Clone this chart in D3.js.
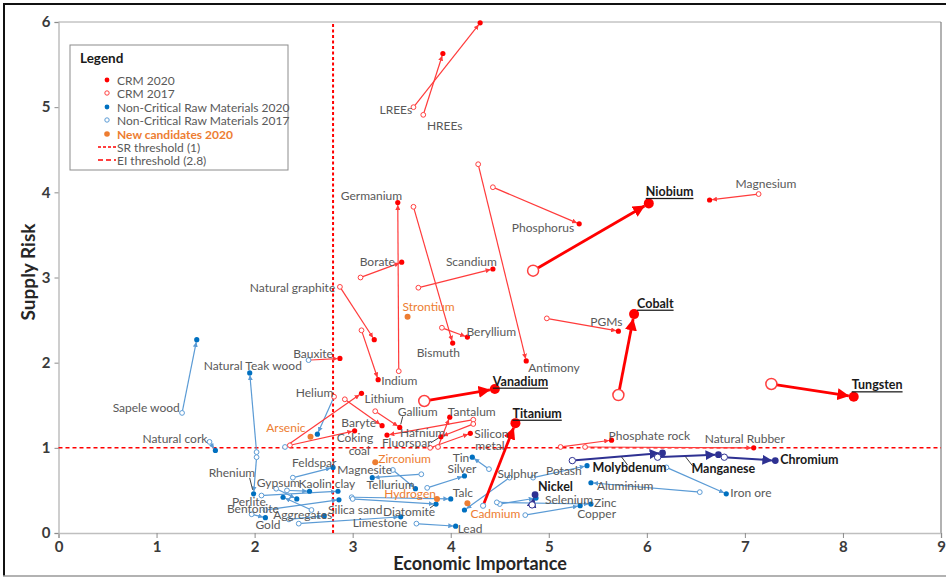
<!DOCTYPE html>
<html>
<head>
<meta charset="utf-8">
<script src="https://cdn.jsdelivr.net/npm/d3@7"></script>
<style>
  html, body { margin: 0; padding: 0; background: #fff; }
  svg text { font-family: Lato, "Open Sans", "Liberation Sans", sans-serif; }
</style>
</head>
<body>
<svg id="chart" width="946" height="578"></svg>
<script>
// ---- Axis ticks -------------------------------------------------------
const xTicks = [0, 1, 2, 3, 4, 5, 6, 7, 8, 9];
const yTicks = [0, 1, 2, 3, 4, 5, 6];

// ---- Thresholds -------------------------------------------------------
const srThreshold = 1;
const eiThreshold = 2.8;

// ---- Material pairs: [name, EI 2017, SR 2017, EI 2020, SR 2020, status 2017]
// Critical raw materials in 2020
const criticalPairs = [
  ["LREEs", 3.62, 5.00, 4.30, 5.99, "crm"],
  ["HREEs", 3.72, 4.91, 3.92, 5.63, "crm"],
  ["Germanium", 3.47, 1.90, 3.46, 3.88, "crm"],
  ["Borate", 3.08, 3.00, 3.50, 3.18, "crm"],
  ["Scandium", 3.67, 2.88, 4.43, 3.10, "crm"],
  ["Natural graphite", 2.87, 2.89, 3.22, 2.27, "crm"],
  ["Phosphorus", 4.43, 4.06, 5.31, 3.63, "crm"],
  ["Antimony", 4.28, 4.33, 4.77, 2.02, "crm"],
  ["Bismuth", 3.62, 3.83, 4.02, 2.23, "crm"],
  ["Beryllium", 3.91, 2.41, 4.17, 2.30, "crm"],
  ["Indium", 3.09, 2.38, 3.26, 1.80, "crm"],
  ["Bauxite", 2.55, 2.03, 2.87, 2.05, "ncrm"],
  ["Lithium", 2.31, 1.01, 3.09, 1.64, "ncrm"],
  ["Baryte", 2.92, 1.57, 3.30, 1.26, "crm"],
  ["Gallium", 3.23, 1.43, 3.48, 1.24, "crm"],
  ["Coking coal", 2.36, 1.03, 3.02, 1.20, "crm"],
  ["Hafnium", 4.23, 1.33, 3.35, 1.15, "crm"],
  ["Fluorspar", 4.23, 1.28, 3.90, 1.13, "crm"],
  ["Silicon metal", 3.79, 1.00, 4.20, 1.17, "crm"],
  ["Tantalum", 3.87, 1.01, 3.99, 1.36, "crm"],
  ["PGMs", 4.98, 2.52, 5.71, 2.37, "crm"],
  ["Magnesium", 7.14, 3.98, 6.64, 3.91, "crm"],
  ["Phosphate rock", 5.12, 1.01, 5.64, 1.09, "crm"],
  ["Natural Rubber", 5.37, 1.01, 7.09, 1.00, "crm"]
];

// Highlighted critical raw materials
const keyCriticalPairs = [
  ["Niobium", 4.84, 3.08, 6.02, 3.87, "crm"],
  ["Cobalt", 5.71, 1.62, 5.87, 2.57, "crm"],
  ["Vanadium", 3.73, 1.55, 4.45, 1.69, "crm"],
  ["Titanium", 4.33, 0.32, 4.66, 1.29, "ncrm"],
  ["Tungsten", 7.27, 1.75, 8.11, 1.60, "crm"]
];

// Highlighted non-critical raw materials
const keyNonCriticalPairs = [
  ["Molybdenum", 5.24, 0.85, 6.16, 0.94, "ncrm"],
  ["Manganese", 6.11, 0.89, 6.73, 0.92, "ncrm"],
  ["Chromium", 6.79, 0.89, 7.31, 0.85, "ncrm"],
  ["Nickel", 4.83, 0.33, 4.86, 0.45, "ncrm"]
];

// Non-critical raw materials in 2020
const nonCriticalPairs = [
  ["Sapele wood", 1.26, 1.41, 1.41, 2.27, "ncrm"],
  ["Natural Teak wood", 2.02, 0.95, 1.95, 1.88, "ncrm"],
  ["Natural cork", 1.54, 1.07, 1.60, 0.97, "ncrm"],
  ["Rhenium", 2.02, 0.89, 1.99, 0.46, "ncrm"],
  ["Helium", 2.81, 1.60, 2.64, 1.16, "crm"],
  ["Feldspar", 2.39, 0.65, 2.80, 0.77, "ncrm"],
  ["Magnesite", 3.70, 0.69, 3.20, 0.65, "ncrm"],
  ["Tellurium", 3.41, 0.74, 3.64, 0.52, "ncrm"],
  ["Silver", 3.76, 0.53, 4.14, 0.67, "ncrm"],
  ["Tin", 4.39, 0.75, 4.22, 0.89, "ncrm"],
  ["Sulphur", 4.60, 0.65, 4.14, 0.27, "ncrm"],
  ["Potash", 4.84, 0.65, 5.39, 0.79, "ncrm"],
  ["Aluminium", 6.54, 0.48, 5.43, 0.59, "ncrm"],
  ["Iron ore", 6.20, 0.77, 6.81, 0.46, "ncrm"],
  ["Selenium", 4.50, 0.34, 4.87, 0.41, "ncrm"],
  ["Zinc", 4.47, 0.36, 5.43, 0.34, "ncrm"],
  ["Copper", 4.76, 0.21, 5.32, 0.32, "ncrm"],
  ["Talc", 2.99, 0.42, 4.00, 0.40, "ncrm"],
  ["Diatomite", 3.00, 0.40, 3.85, 0.34, "ncrm"],
  ["Limestone", 2.45, 0.11, 3.49, 0.19, "ncrm"],
  ["Lead", 3.65, 0.11, 4.05, 0.08, "ncrm"],
  ["Kaolin clay", 2.33, 0.50, 2.56, 0.49, "ncrm"],
  ["Gypsum", 2.22, 0.52, 2.43, 0.40, "ncrm"],
  ["Perlite", 2.07, 0.44, 2.85, 0.49, "ncrm"],
  ["Bentonite", 2.11, 0.27, 2.86, 0.39, "ncrm"],
  ["Gold", 1.97, 0.22, 2.11, 0.18, "ncrm"],
  ["Aggregates", 2.35, 0.16, 2.71, 0.20, "ncrm"],
  ["Silica sand", 2.58, 0.27, 2.29, 0.42, "ncrm"]
];

// New candidates 2020: [name, EI, SR]
const newCandidates = [
  ["Arsenic", 2.57, 1.13],
  ["Strontium", 3.56, 2.54],
  ["Zirconium", 3.23, 0.83],
  ["Hydrogen", 3.86, 0.40],
  ["Cadmium", 4.17, 0.35]
];

const legendLabels = [
  "CRM 2020", "CRM 2017",
  "Non-Critical Raw Materials 2020", "Non-Critical Raw Materials 2017",
  "New candidates 2020", "SR threshold (1)", "EI threshold (2.8)"
];

// ---- Label placement (pixel offsets from the 2020 point) -----------------
// each entry: list of [text, dx, dy, anchor]
const labelSpots = {
  "LREEs": [["LREEs", -68, 87, "end"]],
  "HREEs": [["HREEs", -16, 72, "start"]],
  "Germanium": [["Germanium", -57, -7, "start"]],
  "Borate": [["Borate", -42, -1, "start"]],
  "Scandium": [["Scandium", -47, -7, "start"]],
  "Natural graphite": [["Natural graphite", -39, -52, "end"]],
  "Phosphorus": [["Phosphorus", -5, 4, "end"]],
  "Antimony": [["Antimony", 2, 7, "start"]],
  "Bismuth": [["Bismuth", -36, 9, "start"]],
  "Beryllium": [["Beryllium", -1, -6, "start"]],
  "Indium": [["Indium", 3, 1, "start"]],
  "Bauxite": [["Bauxite", -7, -5, "end"]],
  "Lithium": [["Lithium", 3, 5, "start"]],
  "Baryte": [["Baryte", -6, -3, "end"]],
  "Gallium": [["Gallium", -2, -16, "start"]],
  "Coking coal": [["Coking", -18, 7, "start"], ["coal", -6, 20, "start"]],
  "Hafnium": [["Hafnium", 13, -3, "start"]],
  "Fluorspar": [["Fluorspar", -59, 6, "start"]],
  "Silicon metal": [["Silicon", 4, 0, "start"], ["metal", 5, 12, "start"]],
  "Tantalum": [["Tantalum", -2, -6, "start"]],
  "PGMs": [["PGMs", 4, -10, "end"]],
  "Magnesium": [["Magnesium", 26, -16, "start"]],
  "Phosphate rock": [["Phosphate rock", -3, -5, "start"]],
  "Natural Rubber": [["Natural Rubber", -49, -9, "start"]],
  "Niobium": [["Niobium", -3, -12, "start"]],
  "Cobalt": [["Cobalt", 3, -11, "start"]],
  "Vanadium": [["Vanadium", -2, -8, "start"]],
  "Titanium": [["Titanium", -3, -10, "start"]],
  "Tungsten": [["Tungsten", -2, -12, "start"]],
  "Molybdenum": [["Molybdenum", -70, 15, "start"]],
  "Manganese": [["Manganese", -27, 14, "start"]],
  "Chromium": [["Chromium", 5, -1, "start"]],
  "Nickel": [["Nickel", 3, -8, "start"]],
  "Sapele wood": [["Sapele wood", -17, 68, "end"]],
  "Natural Teak wood": [["Natural Teak wood", -46, -7, "start"]],
  "Natural cork": [["Natural cork", -8, -12, "end"]],
  "Rhenium": [["Rhenium", -45, -21, "start"]],
  "Helium": [["Helium", 16, -42, "end"]],
  "Feldspar": [["Feldspar", -41, -5, "start"]],
  "Magnesite": [["Magnesite", -35, -8, "start"]],
  "Tellurium": [["Tellurium", -49, -4, "start"]],
  "Silver": [["Silver", -17, -7, "start"]],
  "Tin": [["Tin", -3, 0, "end"]],
  "Sulphur": [["Sulphur", 33, -37, "start"]],
  "Potash": [["Potash", -41, 5, "start"]],
  "Aluminium": [["Aluminium", 6, 3, "start"]],
  "Iron ore": [["Iron ore", 4, -1, "start"]],
  "Selenium": [["Selenium", 9, 1, "start"]],
  "Zinc": [["Zinc", 3, -2, "start"]],
  "Copper": [["Copper", -3, 8, "start"]],
  "Talc": [["Talc", 2, -6, "start"]],
  "Diatomite": [["Diatomite", -53, 7, "start"]],
  "Limestone": [["Limestone", -48, 6, "start"]],
  "Lead": [["Lead", 2, 2, "start"]],
  "Kaolin clay": [["Kaolin clay", -11, -8, "start"]],
  "Gypsum": [["Gypsum", -40, -16, "start"]],
  "Perlite": [["Perlite", -106, 10, "start"]],
  "Bentonite": [["Bentonite", -112, 9, "start"]],
  "Gold": [["Gold", -10, 7, "start"]],
  "Aggregates": [["Aggregates", -51, -1, "start"]],
  "Silica sand": [["Silica sand", 45, 12, "start"]],
  "Arsenic": [["Arsenic", -5, -9, "end"]],
  "Strontium": [["Strontium", -5, -10, "start"]],
  "Zirconium": [["Zirconium", 3, -4, "start"]],
  "Hydrogen": [["Hydrogen", -1, -5, "end"]],
  "Cadmium": [["Cadmium", 3, 10, "start"]]
};

// short leader lines from a label to its point: [dx1, dy1, dx2, dy2]
const leaderSpots = {
  "Gallium": [3, -11, 1, -3],
  "Fluorspar": [-10, 6, -2, 1],
  "Rhenium": [-4, -16, -1, -4],
  "Diatomite": [-6, 4, -2, 1],
  "Molybdenum": [-41, 4, -35, 12],
  "Manganese": [-33, 2, -26, 11]
};

// ---- Drawing ----------------------------------------------------------
const svg = d3.select("#chart");
const x = d3.scaleLinear().domain([0, 9]).range([58.5, 941]);
const y = d3.scaleLinear().domain([0, 6]).range([533, 22]);

const C = {
  red: "#ff0000", redLine: "#ff3b3b", redOpen: "#ff4040",
  blue: "#0070c0", blueLine: "#5b9bd5",
  orange: "#ed7d31", navy: "#2e3192", text: "#595959"
};

// frame around the figure
svg.append("line").attr("x1", 3).attr("x2", 946).attr("y1", 4).attr("y2", 4)
  .attr("stroke", "#111").attr("stroke-width", 2);
svg.append("line").attr("x1", 4).attr("x2", 4).attr("y1", 3).attr("y2", 576)
  .attr("stroke", "#111").attr("stroke-width", 2);
svg.append("line").attr("x1", 3).attr("x2", 946).attr("y1", 576).attr("y2", 576)
  .attr("stroke", "#999").attr("stroke-width", 1.5);

const defs = svg.append("defs");
function arrowMarker(id, color, size) {
  defs.append("marker").attr("id", id)
    .attr("viewBox", "0 0 10 10").attr("refX", 9.5).attr("refY", 5)
    .attr("markerUnits", "userSpaceOnUse")
    .attr("markerWidth", size).attr("markerHeight", size)
    .attr("orient", "auto")
    .append("path").attr("d", "M0,0L10,5L0,10z").attr("fill", color);
}
arrowMarker("arrRed", C.redLine, 5);
arrowMarker("arrBlue", C.blueLine, 5);
arrowMarker("arrRedBig", C.red, 12);
arrowMarker("arrNavy", C.navy, 10);

// plot frame
svg.append("line").attr("x1", x(0)).attr("x2", x(9)).attr("y1", y(6)).attr("y2", y(6))
  .attr("stroke", "#a6a6a6").attr("stroke-width", 1);
svg.append("line").attr("x1", x(9)).attr("x2", x(9)).attr("y1", y(6)).attr("y2", y(0))
  .attr("stroke", "#7f7f7f").attr("stroke-width", 1.2);

// axes
const gx = svg.append("g").attr("transform", `translate(0,${y(0)})`)
  .call(d3.axisBottom(x).tickValues(xTicks).tickSize(5).tickPadding(3).tickFormat(d3.format("d")));
const gy = svg.append("g").attr("transform", `translate(${x(0)},0)`)
  .call(d3.axisLeft(y).tickValues(yTicks).tickSize(4).tickPadding(4).tickFormat(d3.format("d")));
[gx, gy].forEach(g => {
  g.select(".domain").attr("stroke", "#bfbfbf").attr("stroke-width", 1.5);
  g.selectAll(".tick line").attr("stroke", "#8c8c8c");
  g.selectAll(".tick text").attr("fill", "#3a3a3a")
    .style("font-size", "15px").style("font-weight", "bold");
});

svg.append("text").attr("x", 480).attr("y", 563)
  .attr("text-anchor", "middle").attr("dominant-baseline", "central")
  .attr("fill", "#262626").style("font-size", "18px").style("font-weight", "bold")
  .text("Economic Importance");
svg.append("text").attr("transform", "translate(27,272) rotate(-90)")
  .attr("text-anchor", "middle").attr("dominant-baseline", "central")
  .attr("fill", "#262626").style("font-size", "19px").style("font-weight", "bold")
  .text("Supply Risk");

// threshold lines
svg.append("line").attr("x1", x(0)).attr("x2", x(9))
  .attr("y1", y(srThreshold)).attr("y2", y(srThreshold))
  .attr("stroke", C.red).attr("stroke-width", 1.5).attr("stroke-dasharray", "4,3");
svg.append("line").attr("x1", x(eiThreshold)).attr("x2", x(eiThreshold))
  .attr("y1", y(0)).attr("y2", y(6))
  .attr("stroke", C.red).attr("stroke-width", 2).attr("stroke-dasharray", "3,2.5");

const lineLayer = svg.append("g");
const leaderLayer = svg.append("g");
const markLayer = svg.append("g");
const labelLayer = svg.append("g");

function drawPairs(rows, opt) {
  rows.forEach(([name, e17, s17, e20, s20, st17]) => {
    const x1 = x(e17), y1 = y(s17), x2 = x(e20), y2 = y(s20);
    const dx = x2 - x1, dy = y2 - y1, L = Math.hypot(dx, dy) || 1;
    const ux = dx / L, uy = dy / L;
    const crit17 = st17 === "crm";
    const r17 = opt.bigOpen && crit17 ? opt.bigOpen : opt.r17;
    lineLayer.append("line")
      .attr("x1", x1 + ux * r17).attr("y1", y1 + uy * r17)
      .attr("x2", x2 - ux * opt.r20).attr("y2", y2 - uy * opt.r20)
      .attr("stroke", opt.line).attr("stroke-width", opt.w)
      .attr("marker-end", `url(#${opt.arrow})`);
    markLayer.append("circle").attr("cx", x1).attr("cy", y1).attr("r", r17)
      .attr("fill", "#fff")
      .attr("stroke", opt.open17 || (crit17 ? C.redOpen : C.blueLine))
      .attr("stroke-width", opt.bigOpen && crit17 ? 1.5 : 1);
    markLayer.append("circle").attr("cx", x2).attr("cy", y2).attr("r", opt.r20)
      .attr("fill", opt.fill);
    drawLabel(name, x2, y2, opt.labelStyle);
  });
}

function drawLabel(name, px, py, style) {
  (labelSpots[name] || []).forEach(([t, dx, dy, anchor]) => {
    const txt = labelLayer.append("text")
      .attr("x", px + dx).attr("y", py + dy)
      .attr("text-anchor", anchor).attr("dominant-baseline", "central")
      .attr("fill", style.color).style("font-size", style.size)
      .style("font-weight", style.weight || "normal")
      .text(t);
    if (style.underline) txt.style("text-decoration", "underline");
  });
  const ld = leaderSpots[name];
  if (ld) {
    leaderLayer.append("line")
      .attr("x1", px + ld[0]).attr("y1", py + ld[1])
      .attr("x2", px + ld[2]).attr("y2", py + ld[3])
      .attr("stroke", "#404040").attr("stroke-width", 1);
  }
}

const plainLabel = { color: C.text, size: "12px" };

drawPairs(nonCriticalPairs, {
  line: C.blueLine, w: 1.2, arrow: "arrBlue", r17: 2.4, r20: 2.6,
  fill: C.blue, labelStyle: plainLabel
});
drawPairs(criticalPairs, {
  line: C.redLine, w: 1.2, arrow: "arrRed", r17: 2.4, r20: 2.6,
  fill: C.red, labelStyle: plainLabel
});
drawPairs(keyNonCriticalPairs, {
  line: C.navy, w: 2, arrow: "arrNavy", r17: 3.2, r20: 3.4,
  fill: C.navy, open17: C.navy,
  labelStyle: { color: "#1a1a1a", size: "12.5px", weight: "bold" }
});
drawPairs(keyCriticalPairs, {
  line: C.red, w: 2.8, arrow: "arrRedBig", r17: 2.6, bigOpen: 5.5, r20: 5,
  fill: C.red,
  labelStyle: { color: "#1a1a1a", size: "12.5px", weight: "bold", underline: true }
});

newCandidates.forEach(([name, ei, sr]) => {
  markLayer.append("circle").attr("cx", x(ei)).attr("cy", y(sr)).attr("r", 3)
    .attr("fill", C.orange);
  drawLabel(name, x(ei), y(sr), { color: C.orange, size: "12px" });
});

// legend
const lg = svg.append("g");
lg.append("rect").attr("x", 70).attr("y", 45).attr("width", 218).attr("height", 125)
  .attr("fill", "#fff").attr("stroke", "#8c8c8c").attr("stroke-width", 1);
lg.append("text").attr("x", 80).attr("y", 58).attr("dominant-baseline", "central")
  .attr("fill", "#1a1a1a").style("font-size", "13.5px").style("font-weight", "bold")
  .text("Legend");
const rowY = [80, 93, 107, 120, 134, 147, 160];
legendLabels.forEach((t, i) => {
  const yy = rowY[i];
  if (i === 0) lg.append("circle").attr("cx", 107).attr("cy", yy).attr("r", 2.4).attr("fill", C.red);
  if (i === 1) lg.append("circle").attr("cx", 107).attr("cy", yy).attr("r", 2.2).attr("fill", "#fff").attr("stroke", C.redOpen);
  if (i === 2) lg.append("circle").attr("cx", 107).attr("cy", yy).attr("r", 2.4).attr("fill", C.blue);
  if (i === 3) lg.append("circle").attr("cx", 107).attr("cy", yy).attr("r", 2.2).attr("fill", "#fff").attr("stroke", C.blueLine);
  if (i === 4) lg.append("circle").attr("cx", 107).attr("cy", yy).attr("r", 2.8).attr("fill", C.orange);
  if (i === 5) lg.append("line").attr("x1", 98).attr("x2", 116).attr("y1", yy).attr("y2", yy)
    .attr("stroke", C.red).attr("stroke-width", 1.5).attr("stroke-dasharray", "3,2");
  if (i === 6) lg.append("line").attr("x1", 98).attr("x2", 116).attr("y1", yy).attr("y2", yy)
    .attr("stroke", C.red).attr("stroke-width", 1.5).attr("stroke-dasharray", "5,3");
  lg.append("text").attr("x", 117).attr("y", yy).attr("dominant-baseline", "central")
    .attr("fill", i === 4 ? C.orange : C.text).style("font-size", "12px")
    .style("font-weight", i === 4 ? "bold" : "normal")
    .text(t);
});
</script>
</body>
</html>
